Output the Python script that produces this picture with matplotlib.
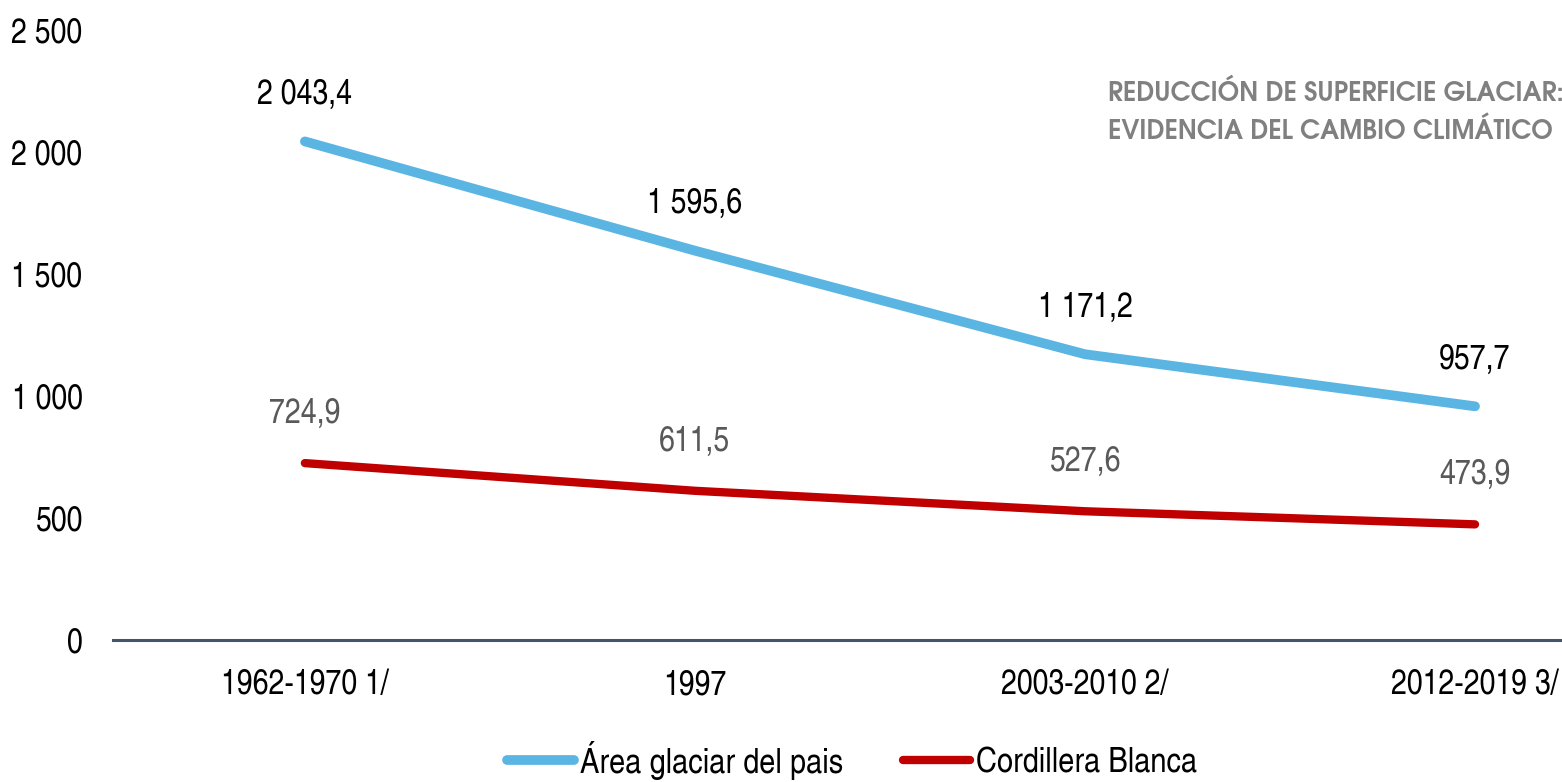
import matplotlib.pyplot as plt

plt.rcParams['font.family'] = ['TeX Gyre Heros Cn', 'Liberation Sans', 'DejaVu Sans']

periods = ['1962-1970 1/', '1997', '2003-2010 2/', '2012-2019 3/']
area_pais = [2043.4, 1595.6, 1171.2, 957.7]
cordillera_blanca = [724.9, 611.5, 527.6, 473.9]
y_ticks = [0, 500, 1000, 1500, 2000, 2500]


def fmt(v, dec=1):
    s = f'{v:,.{dec}f}'
    return s.replace(',', ' ').replace('.', ',')


fig = plt.figure(figsize=(15.62, 7.82), dpi=100)
ax = fig.add_axes([113 / 1562, 1 - 640 / 782, 1 - 113 / 1562, 610 / 782])

x = list(range(len(periods)))
ax.plot(x, area_pais, color='#5bb5e3', lw=7, solid_capstyle='round',
        label='Área glaciar del pais')
ax.plot(x, cordillera_blanca, color='#c00000', lw=6, solid_capstyle='round',
        label='Cordillera Blanca')

for xi, v in zip(x, area_pais):
    ax.annotate(fmt(v), (xi, v), xytext=(0, 22), textcoords='offset points',
                ha='center', va='bottom', fontsize=25, color='#000000')
for xi, v in zip(x, cordillera_blanca):
    ax.annotate(fmt(v), (xi, v), xytext=(0, 24), textcoords='offset points',
                ha='center', va='bottom', fontsize=25, color='#595959')

ax.set_xlim(-0.492, 3.223)
ax.set_ylim(0, 2500)
ax.set_yticks(y_ticks)
ax.set_yticklabels([fmt(t, 0) for t in y_ticks])
ax.set_xticks(x)
ax.set_xticklabels(periods)
ax.tick_params(axis='both', length=0, labelsize=25, colors='#000000')
ax.tick_params(axis='y', pad=22)
ax.tick_params(axis='x', pad=21)

for s in ['top', 'right', 'left']:
    ax.spines[s].set_visible(False)
ax.spines['bottom'].set_color('#44546a')
ax.spines['bottom'].set_linewidth(2.2)

fig.text(1108 / 1562, 1 - 112 / 782, 'REDUCCIÓN DE SUPERFICIE GLACIAR:\nEVIDENCIA DEL CAMBIO CLIMÁTICO',
         ha='left', va='center', fontsize=18.5, color='#808080', fontweight='bold',
         family=['TeX Gyre Adventor', 'DejaVu Sans'], linespacing=1.55)

fig.legend(loc='center', bbox_to_anchor=(852 / 1562, 1 - 760 / 782), ncol=2, frameon=False,
           fontsize=25.5, handlelength=1.9, handletextpad=0.15, columnspacing=1.7)

fig.savefig('out.png', dpi=100)
